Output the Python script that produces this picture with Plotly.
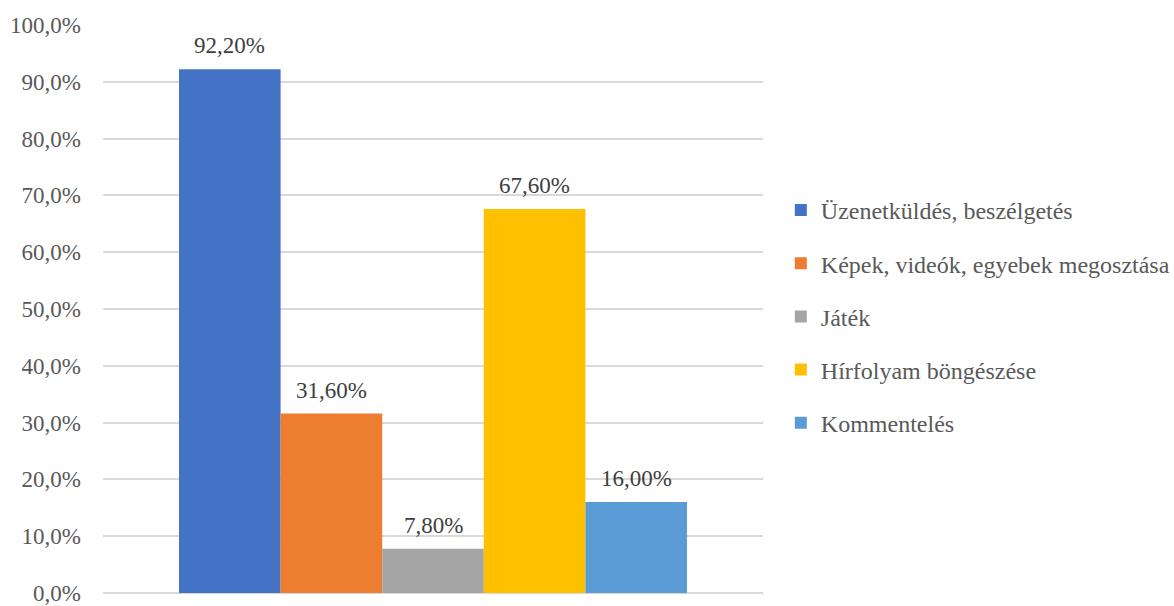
import plotly.graph_objects as go

series_names = ["Üzenetküldés, beszélgetés", "Képek, videók, egyebek megosztása",
                "Játék", "Hírfolyam böngészése", "Kommentelés"]
series_pos = [0, 1, 2, 3, 4]
series_values = [92.2, 31.6, 7.8, 67.6, 16.0]
series_labels = ["92,20%", "31,60%", "7,80%", "67,60%", "16,00%"]
colors = ["#4472C4", "#ED7D31", "#A5A5A5", "#FFC000", "#5B9BD5"]
tick_vals = [0, 10, 20, 30, 40, 50, 60, 70, 80, 90, 100]
tick_text = ["0,0%", "10,0%", "20,0%", "30,0%", "40,0%", "50,0%",
             "60,0%", "70,0%", "80,0%", "90,0%", "100,0%"]

FONT = "Liberation Serif"
FS = 23

fig = go.Figure()
for i, (name, xp, v, lab, c) in enumerate(zip(series_names, series_pos, series_values, series_labels, colors)):
    fig.add_trace(go.Bar(
        x=[xp], y=[v], name=name, marker_color=c, marker_line_width=0,
        width=1, legendgroup=f"g{i}", hoverinfo="name+y",
    ))
    fig.add_annotation(x=xp, y=v, text=lab, showarrow=False, xref="x", yref="y",
                       yanchor="bottom", yshift=9,
                       font=dict(family=FONT, size=FS, color="#404040"))

fig.update_layout(
    width=1174, height=606,
    margin=dict(l=103, r=411, t=25, b=13, autoexpand=False),
    paper_bgcolor="white", plot_bgcolor="white",
    barmode="overlay",
    font=dict(family=FONT, size=FS, color="#595959"),
    showlegend=True,
    legend=dict(x=1.027, xanchor="left", y=0.487, yanchor="middle",
                font=dict(family=FONT, size=24, color="#595959"),
                tracegroupgap=19, itemwidth=30,
                bgcolor="rgba(0,0,0,0)"),
    xaxis=dict(range=[-1.248, 5.248], showticklabels=False, showgrid=False,
               zeroline=False, showline=False, ticks=""),
    yaxis=dict(range=[0, 100], tickvals=tick_vals, ticktext=tick_text, automargin=False,
               showgrid=True, gridcolor="#D9D9D9", gridwidth=1.5,
               zeroline=True, zerolinecolor="#D9D9D9", zerolinewidth=1.5,
               showline=False, ticks="", ticklabelstandoff=21,
               ticklabeloverflow="allow",
               tickfont=dict(family=FONT, size=FS, color="#595959")),
)
fig.write_html("out.html")
